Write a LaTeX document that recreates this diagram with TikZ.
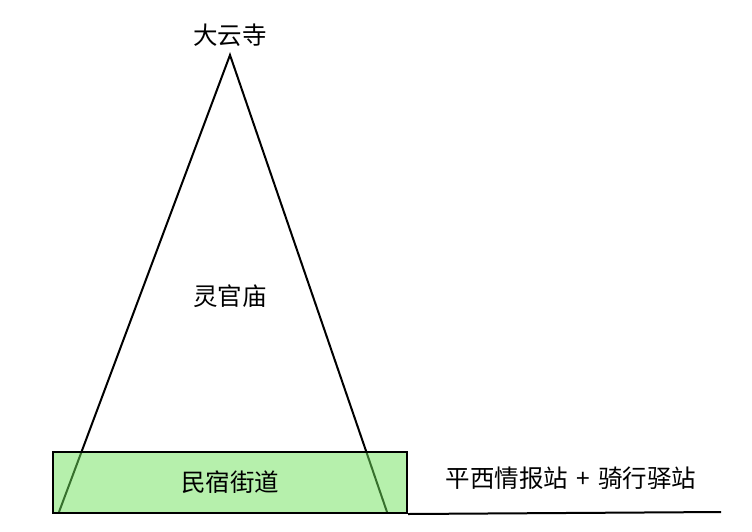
\documentclass[tikz,border=0pt]{standalone}
\usepackage{fontspec}
\newfontfamily\cjk{Noto Sans CJK SC}
\definecolor{boxgreen}{RGB}{110,225,90}
\begin{document}
\begin{tikzpicture}[x=1pt,y=-1pt,
  lbl/.style={font=\cjk\fontsize{24.5}{28}\selectfont, inner sep=0pt},
  edge/.style={line width=2pt, black}]
\useasboundingbox (0,0) rectangle (752,531);
\coordinate (apex) at (230,55);
\coordinate (bl) at (59,512);
\coordinate (br) at (387,512);
\coordinate (lineend) at (721,512);
\draw[edge, line join=miter] (bl) -- (apex) -- (br);
\node[draw, line width=2pt, fill=boxgreen, fill opacity=0.5, draw opacity=1, minimum width=354pt, minimum height=61pt, inner sep=0pt, anchor=north west] (street) at (52,451) {};
\draw[edge] (street.south east) -- (lineend);
\node[lbl] (top) at (230,35) {大云寺};
\node[lbl] (mid) at (230,296) {灵官庙};
\node[lbl] at (street.center) {民宿街道};
\node[lbl] (right) at (571,478) {平西情报站\,\,+\,\,骑行驿站};
\end{tikzpicture}
\end{document}
